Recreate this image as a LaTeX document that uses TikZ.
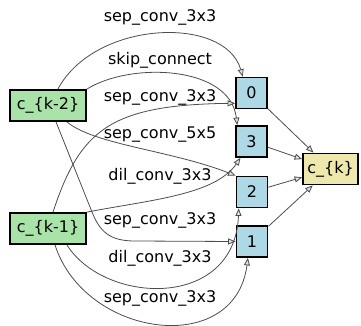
\documentclass[tikz,border=0pt]{standalone}
\usepackage{fontspec}
\setmainfont{DejaVu Sans}
\usetikzlibrary{arrows.meta}
\definecolor{inputgreen}{HTML}{A8E4A8}
\definecolor{nodeblue}{HTML}{ADD8E6}
\definecolor{outyellow}{HTML}{EEE8AA}

\begin{document}
\begin{tikzpicture}[x=1pt,y=-1pt,
	font=\fontsize{16}{19}\selectfont,
	cellbox/.style={draw,line width=1.8pt,minimum height=31pt,inner sep=0pt},
	inbox/.style={cellbox,fill=inputgreen,minimum width=76pt},
	midbox/.style={cellbox,fill=nodeblue,minimum width=31pt},
	outbox/.style={cellbox,fill=outyellow,minimum width=55pt},
	opedge/.style={draw=black!70,line width=0.8pt,-{Triangle[length=7.5pt,width=6pt,fill=black!12]}},
	oplabel/.style={inner sep=1pt}]
						\useasboundingbox (0,0) rectangle (361,326);
						% cell nodes
						\node[inbox] (k2) at (48,105.5) {c\_\{k-2\}};
						\node[inbox] (k1) at (48,228.5) {c\_\{k-1\}};
						\node[midbox] (n0) at (251.5,93) {0};
						\node[midbox] (n3) at (251.5,141.5) {3};
						\node[midbox] (n2) at (252,192) {2};
						\node[midbox] (n1) at (252,241.5) {1};
						\node[outbox] (ck) at (330.5,169) {c\_\{k\}};
						% operation labels
						\node[oplabel] (l1) at (160,17) {sep\_conv\_3x3};
						\node[oplabel] (l2) at (160,60) {skip\_connect};
						\node[oplabel] (l3) at (160,97) {sep\_conv\_3x3};
						\node[oplabel] (l4) at (160,135) {sep\_conv\_5x5};
						\node[oplabel] (l5) at (160,176) {dil\_conv\_3x3};
						\node[oplabel] (l6) at (160,220) {sep\_conv\_3x3};
						\node[oplabel] (l7) at (160,258) {dil\_conv\_3x3};
						\node[oplabel] (l8) at (160,298) {sep\_conv\_3x3};
						% edges into the intermediate nodes
						\draw[opedge] (k2.59) .. controls (95,20) and (225,15) .. (n0.118);
						\draw[opedge] (k2.north east) .. controls (130,62) and (230,65) .. (n3.131);
						\draw[opedge] (k1.73) .. controls (80,130) and (110,105) .. (n0.212);
						\draw[opedge] (k2.-41) .. controls (95,145) and (170,150) .. (n2.135);
						\draw[opedge] (k1.north east) .. controls (150,200) and (215,195) .. (n3.236);
						\draw[opedge] (k2.-64) -- (92,212) .. controls (100,232) and (110,241) .. (135,241) -- (n1.west);
						\draw[opedge] (k1.-41) .. controls (105,305) and (235,310) .. (n2.231);
						\draw[opedge] (k1.-67) .. controls (85,338) and (235,358) .. (n1.256);
						% edges into the output
						\draw[opedge] (n0) -- (ck);
						\draw[opedge] (n3) -- (ck);
						\draw[opedge] (n2) -- (ck);
						\draw[opedge] (n1) -- (ck);
					\end{tikzpicture}
\end{document}
